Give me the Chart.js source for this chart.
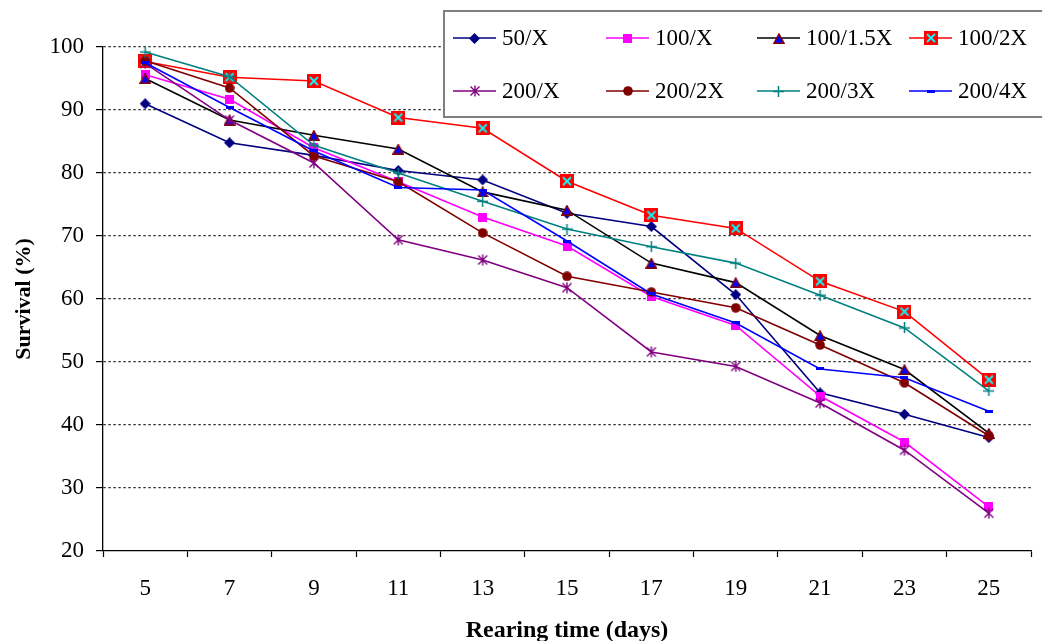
<!DOCTYPE html>
<html>
<head>
<meta charset="utf-8">
<script src="https://cdn.jsdelivr.net/npm/chart.js@4.4.0/dist/chart.umd.min.js"></script>
<style>
  html, body { margin: 0; padding: 0; background: #fff; overflow: hidden; }
</style>
</head>
<body>
<canvas id="myChart" width="1042" height="645"></canvas>
<script>
// rearing days (x categories)
const days = ["5", "7", "9", "11", "13", "15", "17", "19", "21", "23", "25"];
const yTicks = [20, 30, 40, 50, 60, 70, 80, 90, 100];

const seriesNames = ["50/X", "100/X", "100/1.5X", "100/2X", "200/X", "200/2X", "200/3X", "200/4X"];

// survival (%)
const s50x   = [91.0, 84.8, 82.8, 80.4, 78.9, 73.6, 71.5, 60.7, 45.1, 41.7, 38.0];
const s100x  = [95.6, 91.7, 84.0, 78.6, 73.0, 68.4, 60.4, 55.8, 44.6, 37.3, 27.0];
const s100_15x = [95.0, 88.4, 86.0, 83.8, 77.0, 74.1, 65.7, 62.6, 54.2, 48.8, 38.7];
const s100_2x  = [97.7, 95.2, 94.6, 88.8, 87.1, 78.7, 73.3, 71.2, 62.8, 58.0, 47.2];
const s200x  = [97.4, 88.4, 81.6, 69.4, 66.2, 61.8, 51.6, 49.3, 43.5, 36.0, 26.0];
const s200_2x  = [97.8, 93.5, 82.7, 78.6, 70.5, 63.6, 61.1, 58.6, 52.7, 46.7, 38.3];
const s200_3x  = [99.2, 95.3, 84.4, 80.0, 75.5, 71.1, 68.3, 65.7, 60.6, 55.4, 45.4];
const s200_4x  = [97.5, 90.4, 83.5, 77.7, 77.3, 69.2, 60.8, 56.2, 48.9, 47.5, 42.2];

const seriesValues = [s50x, s100x, s100_15x, s100_2x, s200x, s200_2x, s200_3x, s200_4x];
const lineColors = ["#000080", "#FF00FF", "#000000", "#FF0000", "#800080", "#800000", "#008080", "#0000FF"];

// little canvases used as point markers
function marker(w, h, draw) {
  const c = document.createElement("canvas");
  c.width = w; c.height = h;
  draw(c.getContext("2d"), w, h);
  return c;
}
const markers = [
  marker(11, 11, (g) => { g.fillStyle = "#000080"; g.beginPath(); g.moveTo(5.5, 0); g.lineTo(11, 5.5); g.lineTo(5.5, 11); g.lineTo(0, 5.5); g.closePath(); g.fill(); }),
  marker(9, 9, (g) => { g.fillStyle = "#FF00FF"; g.fillRect(0, 0, 9, 9); }),
  marker(12, 11, (g) => { g.fillStyle = "#0000FF"; g.strokeStyle = "#800000"; g.lineWidth = 1.5; g.beginPath(); g.moveTo(6, 1); g.lineTo(11, 10.2); g.lineTo(1, 10.2); g.closePath(); g.fill(); g.stroke(); }),
  marker(14, 14, (g) => { g.fillStyle = "#FF0000"; g.fillRect(0, 0, 14, 14); g.strokeStyle = "#00FFFF"; g.lineWidth = 1.8; g.beginPath(); g.moveTo(3, 3); g.lineTo(11, 11); g.moveTo(11, 3); g.lineTo(3, 11); g.stroke(); }),
  marker(12, 12, (g) => { g.strokeStyle = "#800080"; g.lineWidth = 1.4; g.beginPath(); g.moveTo(6, 0.5); g.lineTo(6, 11.5); g.moveTo(1.5, 1.5); g.lineTo(10.5, 10.5); g.moveTo(10.5, 1.5); g.lineTo(1.5, 10.5); g.stroke(); }),
  marker(10, 10, (g) => { g.fillStyle = "#800000"; g.beginPath(); g.arc(5, 5, 4.8, 0, Math.PI * 2); g.fill(); }),
  marker(11, 11, (g) => { g.strokeStyle = "#008080"; g.lineWidth = 1.5; g.beginPath(); g.moveTo(5.5, 0); g.lineTo(5.5, 11); g.moveTo(0, 5.5); g.lineTo(11, 5.5); g.stroke(); }),
  marker(8, 3, (g) => { g.fillStyle = "#0000FF"; g.fillRect(0, 0, 8, 3); })
];

const datasets = seriesNames.map((name, i) => ({
  label: name,
  data: seriesValues[i],
  borderColor: lineColors[i],
  backgroundColor: lineColors[i],
  borderWidth: 1.6,
  pointStyle: markers[i],
  pointRadius: 6,
  tension: 0,
  order: seriesNames.length - i
}));

const serif = "'Liberation Serif', 'Times New Roman', serif";

// legend box sitting over the plot, like the original
const legendCols = [453, 606, 757, 909];
const legendRows = [38, 91];
const boxLegend = {
  id: "boxLegend",
  afterDraw(chart) {
    const ctx = chart.ctx;
    ctx.save();
    ctx.fillStyle = "#fff";
    ctx.fillRect(444, 11, 610, 106);
    ctx.strokeStyle = "#808080";
    ctx.lineWidth = 2;
    ctx.strokeRect(444, 11, 610, 106);
    ctx.font = "23px " + serif;
    ctx.textBaseline = "middle";
    seriesNames.forEach((name, i) => {
      const x0 = legendCols[i % 4];
      const y = legendRows[Math.floor(i / 4)];
      ctx.strokeStyle = lineColors[i];
      ctx.lineWidth = 1.6;
      ctx.beginPath();
      ctx.moveTo(x0, y);
      ctx.lineTo(x0 + 43, y);
      ctx.stroke();
      const m = markers[i];
      ctx.drawImage(m, Math.round(x0 + 21.5 - m.width / 2), Math.round(y - m.height / 2));
      ctx.fillStyle = "#000";
      ctx.fillText(name, x0 + 49, y + 1);
    });
    ctx.restore();
  }
};

const ctx = document.getElementById("myChart").getContext("2d");
const myChart = new Chart(ctx, {
  type: "line",
  data: { labels: days, datasets: datasets },
  options: {
    responsive: false,
    animation: false,
    devicePixelRatio: 1,
    layout: { padding: { left: 0, right: 11, top: 47, bottom: 0 } },
    plugins: { legend: { display: false }, tooltip: { enabled: false } },
    scales: {
      x: {
        offset: true,
        afterFit: (s) => { s.height = 94; },
        grid: { offset: true, drawOnChartArea: false, drawTicks: true, tickLength: 6, tickColor: "#000", tickWidth: 1.2 },
        border: { color: "#000", width: 1.3 },
        ticks: { color: "#000", padding: 18, font: { family: serif, size: 23 }, maxRotation: 0 },
        title: { display: true, text: "Rearing time (days)", color: "#000", padding: { top: 0, bottom: 0 }, font: { family: serif, size: 24, weight: "bold" } }
      },
      y: {
        min: 20,
        max: 100,
        afterFit: (s) => { s.width = 103; },
        afterBuildTicks: (s) => { s.ticks = yTicks.map((v) => ({ value: v })); },
        grid: {
          color: (c) => (c.tick && c.tick.value === 20 ? "rgba(0,0,0,0)" : "#333"),
          lineWidth: 1.2,
          tickLength: 7,
          tickColor: "#000",
          tickWidth: 1.2,
          tickBorderDash: []
        },
        border: { color: "#000", width: 1.3, dash: [2.5, 2.5] },
        ticks: { color: "#000", padding: 12, font: { family: serif, size: 23 } },
        title: { display: true, text: "Survival (%)", color: "#000", padding: { top: 11, bottom: 0 }, font: { family: serif, size: 22, weight: "bold" } }
      }
    }
  },
  plugins: [boxLegend]
});
</script>
</body>
</html>
